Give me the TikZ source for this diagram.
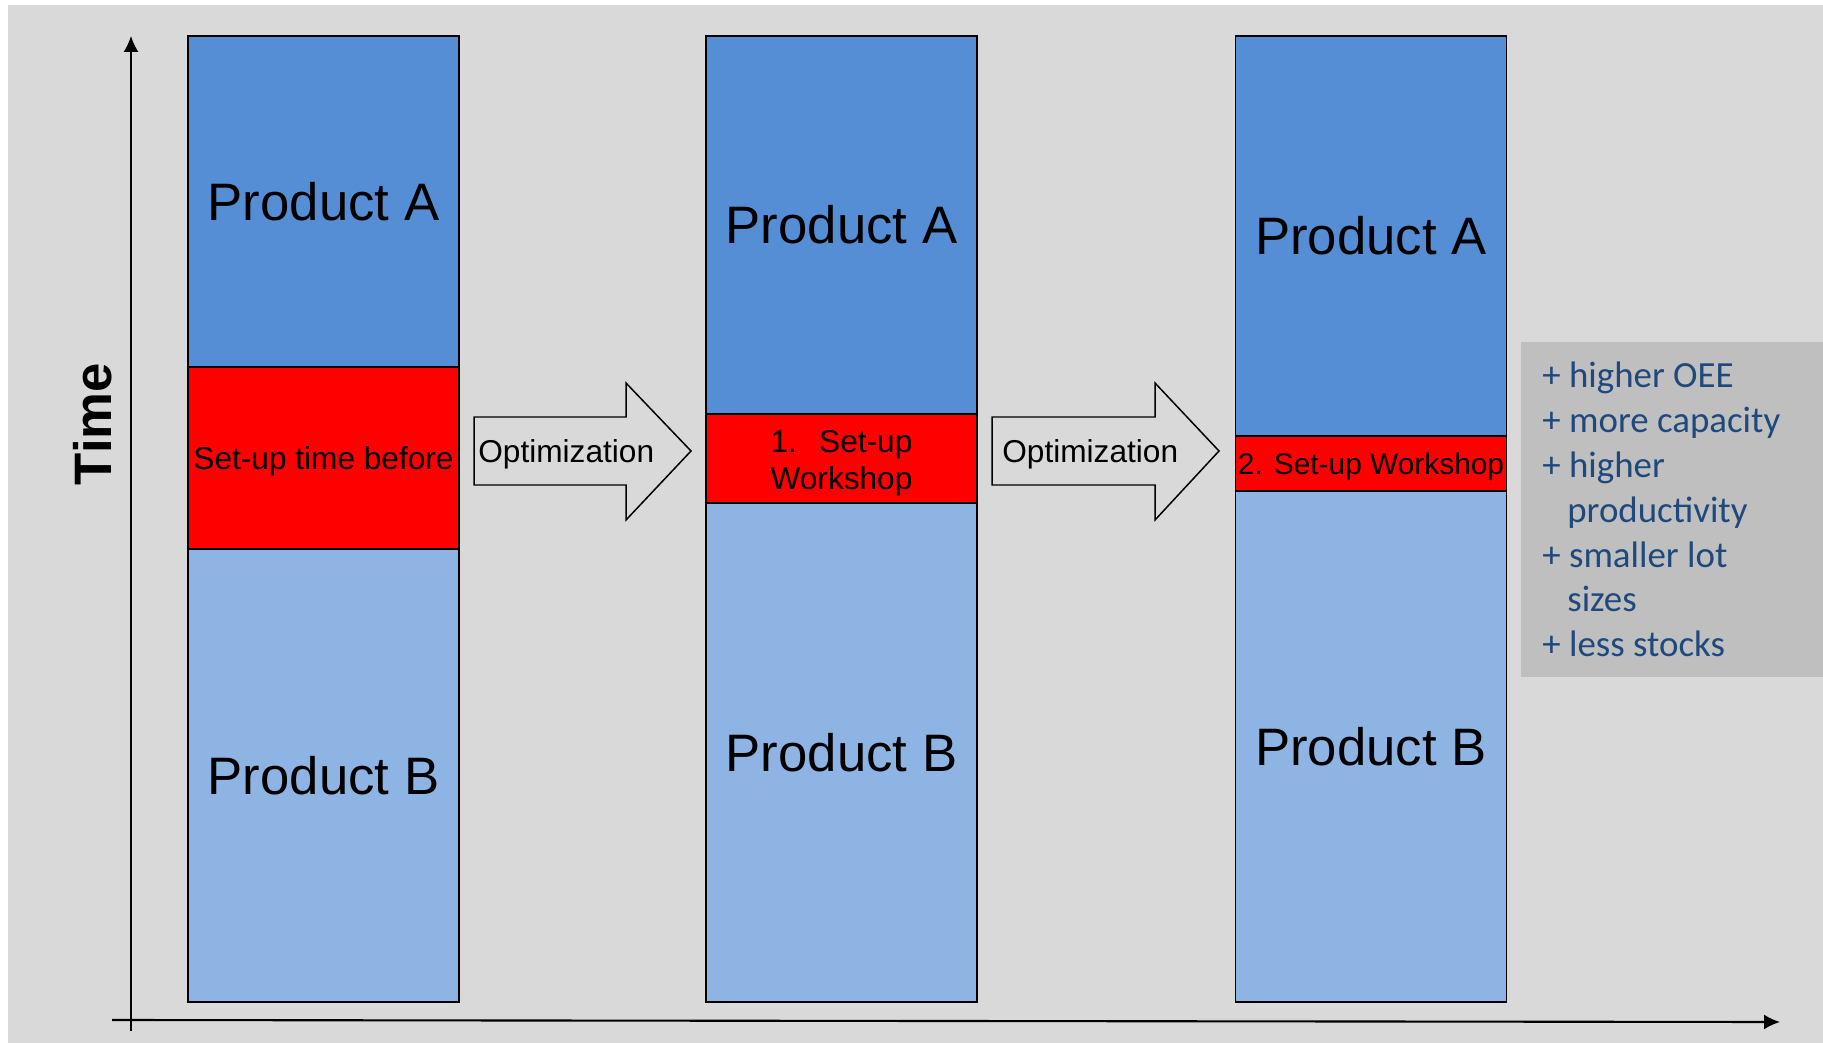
\documentclass[tikz,border=0pt]{standalone}
\usepackage{fontspec}
\setmainfont{Liberation Sans}
\newfontfamily\listfont{Carlito}
\usetikzlibrary{positioning,arrows.meta}

\definecolor{bggray}{HTML}{D9D9D9}
\definecolor{listgray}{HTML}{BFBFBF}
\definecolor{topblue}{HTML}{558ED5}
\definecolor{botblue}{HTML}{8EB4E3}
\definecolor{listblue}{HTML}{1F497D}

\tikzset{
  bar/.style={draw=black, line width=0.85pt, minimum width=5.42cm, inner sep=0pt, outer sep=0pt,
    font=\fontsize{30}{36}\selectfont},
  prodtop/.style={bar, fill=topblue},
  prodbot/.style={bar, fill=botblue},
  setup/.style={bar, fill=red, align=center, text depth=0pt, font=\fontsize{18}{21}\selectfont},
  optarrow/.style={draw=black, line width=0.85pt, fill=bggray, line join=miter},
  opttext/.style={inner sep=0pt, anchor=base west, font=\fontsize{18}{21}\selectfont},
  axis/.style={line width=0.9pt, -{Latex[length=0.32cm, width=0.3cm]}},
  listtext/.style={inner sep=0pt, align=left, text=listblue, font=\listfont\fontsize{21}{25.5}\selectfont},
}

\begin{document}
\begin{tikzpicture}[x=0.02cm, y=-0.02cm]
      \useasboundingbox (0,0) rectangle (1823,1043);
      % Draw the background
      \fill[bggray] (8,5) rectangle (1823,1043);
      \fill[listgray] (1521,342) rectangle (1823,677);
      % Draw the axes
      \coordinate (yfoot) at (131,1031);
      \coordinate (ytop) at (131,36);
      \coordinate (xfoot) at (112,1020);
      \coordinate (xend) at (1780,1022);
      \draw[axis] (yfoot) -- (ytop);
      \draw[axis, line width=1.2pt] (xfoot) -- (xend);
      \node[rotate=90, font=\bfseries\fontsize{30}{36}\selectfont] (time) at (93,424) {Time};
      % Draw the first bar
      \node[prodtop, minimum height=6.62cm, anchor=north] (a1) at (323.5,36) {Product A};
      \node[setup, minimum height=3.64cm, below=0pt of a1] (s1) {Set-up time before};
      \node[prodbot, minimum height=9.06cm, below=0pt of s1] (b1) {Product B};
      % Draw the second bar
      \node[prodtop, minimum height=7.56cm, anchor=north] (a2) at (841.5,36) {Product A};
      \node[setup, minimum height=1.78cm, below=0pt of a2] (s2) {\rule{0pt}{0.82em}1.\hspace{0.7em}Set-up\\Workshop};
      \node[prodbot, minimum height=9.98cm, below=0pt of s2] (b2) {Product B};
      % Draw the third bar
      \node[prodtop, minimum height=8.0cm, anchor=north] (a3) at (1371,36) {Product A};
      \node[setup, minimum height=1.1cm, below=0pt of a3, font=\fontsize{17}{20}\selectfont] (s3) {2. Set-up Workshop};
      \node[prodbot, minimum height=10.22cm, below=0pt of s3] (b3) {Product B};
      % Draw the optimization arrows
      \draw[optarrow] (474,417) -- (626,417) -- (626,383) -- (691,451) -- (626,520) -- (626,485) -- (474,485) -- cycle;
      \node[opttext] (o1) at (478,463) {Optimization};
      \draw[optarrow] (992,417) -- (1155,417) -- (1155,383) -- (1219,451) -- (1155,520) -- (1155,485) -- (992,485) -- cycle;
      \node[opttext] (o2) at (1002,463) {Optimization};
      % Draw the list of gains
      \node[listtext, anchor=north west] (gains) at (1542,362) {+ higher OEE\\+ more capacity\\+ higher\\\hspace{0.5cm}productivity\\+ smaller lot\\\hspace{0.5cm}sizes\\+ less stocks};
    \end{tikzpicture}
\end{document}
